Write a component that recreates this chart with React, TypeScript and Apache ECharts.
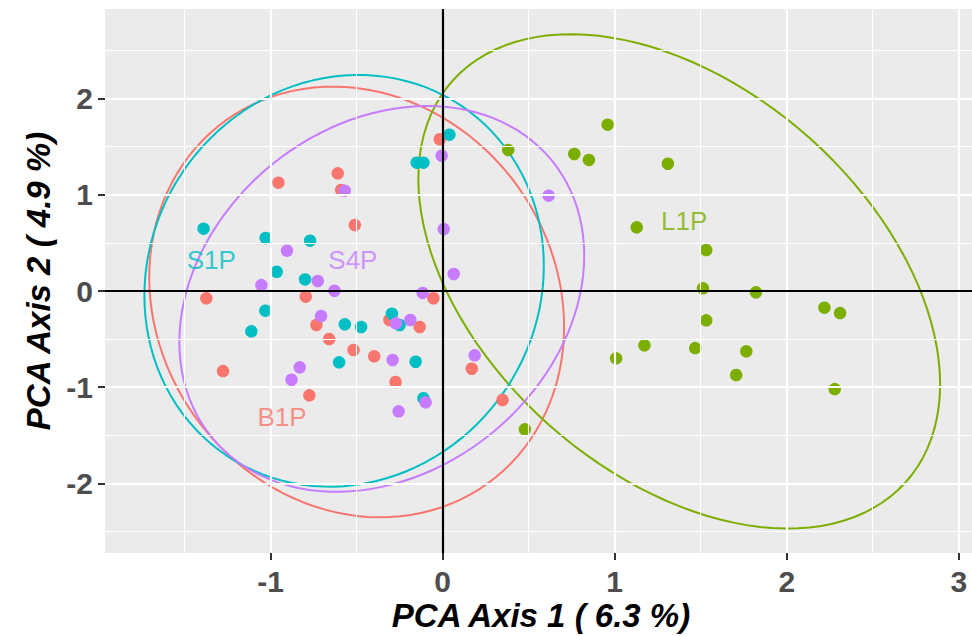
import React, { useEffect, useRef } from "react";
import * as echarts from "echarts";

// ---- data ----
const groups = ["B1P", "L1P", "S1P", "S4P"];
const colors = ["#F8766D", "#7CAE00", "#00BFC4", "#C77CFF"];

const b1p = [
  [-0.017, 1.577], [-0.955, 1.126], [-0.61, 1.223], [-0.59, 1.05], [-0.511, 0.686],
  [-1.374, -0.076], [-0.796, -0.059], [-0.054, -0.075], [-0.734, -0.353], [-0.31, -0.301],
  [-0.134, -0.374], [-0.66, -0.499], [-0.518, -0.613], [-0.398, -0.679], [-1.277, -0.832],
  [-0.274, -0.946], [-0.775, -1.084], [0.169, -0.808], [0.348, -1.133],
];
const l1p = [
  [0.381, 1.466], [0.765, 1.424], [0.85, 1.362], [0.959, 1.729], [1.309, 1.323],
  [1.128, 0.662], [1.532, 0.426], [1.513, 0.028], [1.821, -0.014], [1.532, -0.305],
  [2.219, -0.173], [2.31, -0.229], [1.008, -0.7], [1.173, -0.565], [1.468, -0.593],
  [1.765, -0.627], [1.706, -0.873], [2.279, -1.019], [0.478, -1.438],
];
const s1p = [
  [0.039, 1.625], [-0.151, 1.334], [-0.112, 1.334], [-1.39, 0.648], [-1.029, 0.551],
  [-0.771, 0.523], [-0.965, 0.2], [-0.8, 0.12], [-1.031, -0.204], [-1.112, -0.419],
  [-0.569, -0.346], [-0.474, -0.374], [-0.295, -0.236], [-0.25, -0.353], [-0.602, -0.741],
  [-0.157, -0.735], [-0.112, -1.115],
];
const s4p = [
  [-0.006, 1.406], [-0.569, 1.043], [0.006, 0.644], [-0.905, 0.419], [-0.726, 0.104],
  [0.064, 0.177], [-1.054, 0.062], [-0.629, 0.003], [-0.116, -0.02], [-0.707, -0.26],
  [-0.272, -0.336], [-0.188, -0.301], [-0.291, -0.717], [-0.831, -0.793], [-0.879, -0.922],
  [-0.099, -1.157], [-0.256, -1.251], [0.616, 0.991], [0.186, -0.669],
];
const points = [b1p, l1p, s1p, s4p];

// ellipse parameters: centre and covariance-like matrix [sxx, syy, sxy]
const ellipseCenters = [[-0.5, -0.114], [1.375, 0.1], [-0.573, 0.106], [-0.354, -0.082]];
const ellipseShapes = [[1.454, 5.009, -0.31], [2.3, 6.6, -1.62], [1.348, 4.578, 0.18], [1.385, 4.02, 0.53]];

// group label positions
const labelPos = [[-0.934, -1.306], [1.404, 0.728], [-1.345, 0.322], [-0.522, 0.322]];

const xTicks = [-1, 0, 1, 2, 3];
const yTicks = [-2, -1, 0, 1, 2];
const xMinor = [-1.5, -0.5, 0.5, 1.5, 2.5];
const yMinor = [-2.5, -1.5, -0.5, 0.5, 1.5, 2.5];
const xTitle = "PCA Axis 1 ( 6.3 %)";
const yTitle = "PCA Axis 2 ( 4.9 %)";

function ellipsePath(c: number[], s: number[]) {
  const l11 = Math.sqrt(s[0]);
  const l21 = s[2] / l11;
  const l22 = Math.sqrt(s[1] - l21 * l21);
  const out: number[][] = [];
  const n = 120;
  for (let i = 0; i <= n; i++) {
    const t = (i / n) * Math.PI * 2;
    out.push([c[0] + l11 * Math.cos(t), c[1] + l21 * Math.cos(t) + l22 * Math.sin(t)]);
  }
  return out;
}

const FONT = "'Liberation Sans', Arial, Helvetica, sans-serif";

export default function App() {
  const ref = useRef<HTMLDivElement>(null);
  useEffect(() => {
    if (!ref.current) return;
    const chart = echarts.init(ref.current, undefined, { renderer: "svg" });
    const series: any[] = [];
    series.push({
      type: "scatter",
      data: [],
      z: 1,
      silent: true,
      markLine: {
        silent: true,
        symbol: ["none", "none"],
        label: { show: false },
        animation: false,
        data: [
          ...xMinor.map((v) => ({ xAxis: v, lineStyle: { color: "#ffffff", width: 1.1, type: "solid" } })),
          ...yMinor.map((v) => ({ yAxis: v, lineStyle: { color: "#ffffff", width: 1.1, type: "solid" } })),
          ...xTicks.map((v) => ({ xAxis: v, lineStyle: { color: "#ffffff", width: 2.2, type: "solid" } })),
          ...yTicks.map((v) => ({ yAxis: v, lineStyle: { color: "#ffffff", width: 2.2, type: "solid" } })),
        ],
      },
    });
    series.push({
      type: "scatter",
      data: [],
      z: 2,
      silent: true,
      markLine: {
        silent: true,
        symbol: ["none", "none"],
        label: { show: false },
        animation: false,
        lineStyle: { color: "#000000", width: 2.2, type: "solid" },
        data: [{ xAxis: 0 }, { yAxis: 0 }],
      },
    });
    groups.forEach((g, i) => {
      series.push({
        type: "line",
        data: ellipsePath(ellipseCenters[i], ellipseShapes[i]),
        showSymbol: false,
        symbol: "none",
        smooth: false,
        z: 3,
        silent: true,
        lineStyle: { color: colors[i], width: 2 },
      });
    });
    groups.forEach((g, i) => {
      series.push({
        type: "scatter",
        name: g,
        data: points[i],
        symbolSize: 12.5,
        z: 4,
        itemStyle: { color: colors[i], opacity: 1 },
      });
    });
    groups.forEach((g, i) => {
      series.push({
        type: "scatter",
        data: [labelPos[i]],
        symbolSize: 1,
        z: 5,
        silent: true,
        itemStyle: { color: "rgba(0,0,0,0)" },
        label: {
          show: true,
          position: "inside",
          formatter: g,
          color: colors[i],
          fontSize: 26,
          fontFamily: FONT,
        },
      });
    });

    chart.setOption({
      animation: false,
      backgroundColor: "#ffffff",
      grid: {
        left: 105,
        right: 0,
        top: 9,
        bottom: 83,
        show: true,
        backgroundColor: "#EBEBEB",
        borderWidth: 0,
        containLabel: false,
      },
      xAxis: {
        type: "value",
        min: -1.963,
        max: 3.077,
        axisLine: { show: false, onZero: false },
        splitLine: { show: false },
        axisTick: {
          show: true,
          customValues: xTicks,
          length: 7,
          lineStyle: { color: "#333333", width: 2 },
        },
        axisLabel: {
          show: true,
          customValues: xTicks,
          margin: 13,
          fontSize: 30,
          fontWeight: "bold",
          color: "#4D4D4D",
          fontFamily: FONT,
        },
      },
      yAxis: {
        type: "value",
        min: -2.723,
        max: 2.931,
        axisLine: { show: false, onZero: false },
        splitLine: { show: false },
        axisTick: {
          show: true,
          customValues: yTicks,
          length: 7,
          lineStyle: { color: "#333333", width: 2 },
        },
        axisLabel: {
          show: true,
          customValues: yTicks,
          margin: 12,
          fontSize: 30,
          fontWeight: "bold",
          color: "#4D4D4D",
          fontFamily: FONT,
        },
      },
      graphic: [
        {
          type: "text",
          x: 541,
          y: 615,
          style: {
            text: xTitle,
            fontSize: 33,
            fontWeight: "bold",
            fontStyle: "italic",
            fontFamily: FONT,
            fill: "#000000",
            textAlign: "center",
            textVerticalAlign: "middle",
          },
        },
        {
          type: "text",
          x: 38,
          y: 281,
          rotation: Math.PI / 2,
          style: {
            text: yTitle,
            fontSize: 33,
            fontWeight: "bold",
            fontStyle: "italic",
            fontFamily: FONT,
            fill: "#000000",
            textAlign: "center",
            textVerticalAlign: "middle",
          },
        },
      ],
      series,
    });
    return () => chart.dispose();
  }, []);
  return (
    <div
      ref={ref}
      style={{ position: "fixed", left: 0, top: 0, width: 972, height: 636 }}
    />
  );
}
